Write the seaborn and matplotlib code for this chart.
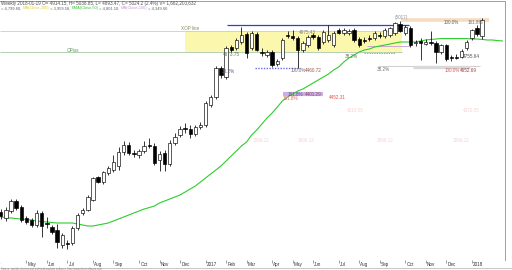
import numpy as np
import pandas as pd
import matplotlib
matplotlib.use("Agg")
import matplotlib.pyplot as plt
import seaborn as sns
from matplotlib.lines import Line2D
from matplotlib.transforms import blended_transform_factory

# ---------------- data (weekly candles) ----------------
weeks = pd.date_range("2016-04-01", periods=95, freq="W-FRI")

opens = [3680, 3638, 3687, 3757, 3715, 3638, 3624, 3589, 3673, 3603,
         3575, 3554, 3449, 3463, 3463, 3568, 3673, 3694, 3764, 3925,
         3890, 3953, 3974, 4002, 4100, 4149, 4093, 4079, 4107, 4149,
         4142, 4044, 4093, 4016, 4163, 4219, 4268, 4261, 4226, 4275,
         4289, 4429, 4485, 4688, 4625, 4835, 4828, 4870, 4926, 4828,
         4926, 4800, 4779, 4800, 4716, 4758, 4919, 4912, 4898, 4814,
         4849, 4919, 4905, 4870, 4884, 4849, 4954, 4933, 4933, 4954,
         4891, 4884, 4898, 4898, 4919, 4912, 4919, 4933, 4996, 4933,
         4968, 4863, 4877, 4856, 4870, 4863, 4800, 4849, 4762, 4765,
         4765, 4828, 4898, 4968, 4914.15]
highs = [3701, 3715, 3771, 3771, 3729, 3652, 3638, 3694, 3687, 3645,
         3589, 3596, 3533, 3484, 3582, 3673, 3708, 3799, 3925, 3932,
         3967, 4002, 4079, 4135, 4177, 4170, 4114, 4121, 4177, 4198,
         4163, 4107, 4114, 4184, 4233, 4282, 4303, 4289, 4289, 4310,
         4457, 4499, 4702, 4702, 4842, 4849, 4898, 4975, 4940, 4947,
         4940, 4828, 4814, 4814, 4751, 4898, 4947, 4954, 4912, 4877,
         4919, 4933, 4919, 4954, 4989, 4947, 4968, 4968, 4961, 4968,
         4905, 4905, 4919, 4947, 4940, 4968, 4975, 5010, 5017, 4989,
         4982, 4884, 4898, 4891, 4947, 4877, 4856, 4856, 4779, 4786,
         4821, 4884, 4961, 4989, 5038.85]
lows = [3631, 3617, 3673, 3694, 3610, 3596, 3575, 3575, 3505, 3568,
        3526, 3428, 3428, 3421, 3449, 3554, 3659, 3687, 3757, 3883,
        3876, 3939, 3960, 3974, 4079, 4079, 4065, 4058, 4093, 4128,
        4009, 3967, 3967, 4002, 4149, 4205, 4233, 4198, 4212, 4261,
        4275, 4415, 4471, 4618, 4611, 4800, 4814, 4856, 4758, 4814,
        4807, 4772, 4765, 4695, 4702, 4744, 4898, 4884, 4688, 4800,
        4835, 4891, 4814, 4856, 4870, 4835, 4926, 4919, 4919, 4870,
        4835, 4863, 4877, 4884, 4898, 4898, 4905, 4919, 4940, 4919,
        4835, 4842, 4744, 4849, 4849, 4723, 4786, 4737, 4740, 4751,
        4758, 4814, 4884, 4912, 4893.47]
closes = [3652, 3694, 3757, 3708, 3624, 3610, 3589, 3673, 3582, 3596,
          3540, 3470, 3519, 3456, 3568, 3659, 3694, 3785, 3918, 3890,
          3960, 3988, 4030, 4100, 4149, 4093, 4086, 4107, 4142, 4142,
          4023, 4086, 4016, 4163, 4205, 4261, 4261, 4226, 4275, 4289,
          4443, 4485, 4688, 4639, 4828, 4814, 4884, 4919, 4793, 4933,
          4814, 4793, 4800, 4709, 4737, 4884, 4912, 4898, 4814, 4863,
          4905, 4905, 4828, 4940, 4919, 4933, 4933, 4954, 4947, 4884,
          4849, 4877, 4891, 4933, 4912, 4954, 4968, 5003, 4947, 4975,
          4849, 4870, 4863, 4870, 4863, 4800, 4849, 4751, 4757, 4758,
          4807, 4870, 4954, 4926, 5024.2]

# green moving-average line (extends 4 weeks past the last candle)
ema_line = [3645, 3641, 3638, 3634, 3631, 3627, 3624, 3617, 3613, 3610,
            3606, 3603, 3603, 3603, 3603, 3596, 3589, 3582, 3582, 3589,
            3596, 3603, 3617, 3631, 3645, 3659, 3673, 3687, 3701, 3711,
            3722, 3743, 3757, 3771, 3785, 3799, 3820, 3841, 3862, 3890,
            3918, 3946, 3974, 4002, 4037, 4072, 4107, 4142, 4170, 4219,
            4254, 4296, 4338, 4373, 4415, 4457, 4485, 4506, 4527, 4541,
            4562, 4583, 4604, 4625, 4646, 4674, 4695, 4730, 4758, 4779,
            4800, 4814, 4821, 4835, 4842, 4849, 4856, 4863, 4870, 4870,
            4870, 4870, 4877, 4884, 4888, 4891, 4894, 4894, 4894, 4894,
            4894, 4894, 4891, 4891, 4888, 4884, 4884, 4880, 4877]

month_tick_weeks = [-1.6, 5, 9, 13, 18, 22, 27, 31, 35, 40, 44, 48, 53, 57,
                    61, 66, 70, 74, 79, 83, 87, 92]
month_labels = ["Apr", "May", "Jun", "Jul", "Aug", "Sep", "Oct", "Nov", "Dec",
                "2017", "Feb", "Mar", "Apr", "May", "Jun", "Jul", "Aug", "Sep",
                "Oct", "Nov", "Dec", "2018"]

# drawn levels: (price, start week, end week)
box_span = (36.0, 78.4)
box_levels = (4800, 4947)
blue_line = (4989, 44.2, 79.7)
peach_band = (5024, 78.2, 95.4)
gray_band = (4695, 80.5, 91.6)
gray_thin = (4702, 73.7, 93.6)
purple_dotted = (4688, 49.7, 58.4)
lavender_band = (4506, 55.1, 62.9)
plum_line = (4842, 71.5, 80.0)
red_dash = (4793, 71.0, 77.0)

# ---------------- figure ----------------
W, H = 512, 270
sns.set_theme(style="white")
plt.rcParams["font.family"] = ["Liberation Sans", "DejaVu Sans"]

fig = plt.figure(figsize=(W / 100, H / 100), dpi=100)
AX_L, AX_R, AX_T, AX_B = 0, 505, 1, 260
ax = fig.add_axes([AX_L / W, 1 - AX_B / H, (AX_R - AX_L) / W, (AX_B - AX_T) / H])


def wx(px):
    return (px - 0.8) / 5.12


def py(px):
    return 5164 - 7 * px


ax.set_xlim(wx(AX_L), wx(AX_R))
ax.set_ylim(py(AX_B), py(AX_T))

df = pd.DataFrame({"week": np.arange(len(weeks)), "open": opens, "high": highs,
                   "low": lows, "close": closes})
df["up"] = df["close"] >= df["open"]
mid = (df["open"] + df["close"]) / 2
height = np.maximum((df["close"] - df["open"]).abs(), 7)
bottom = mid - height / 2

# yellow box and its extended edges
ax.fill_between(box_span, box_levels[0], box_levels[1], color="#fbf7ad", lw=0, zorder=0.5)
ax.hlines(box_levels[1], wx(AX_L), box_span[1], color="#d6cfa4", lw=0.6, zorder=0.8)
ax.hlines(box_levels[0], wx(AX_L), box_span[1], color="#a9c9a9", lw=0.6, zorder=0.8)

ax.hlines(blue_line[0], blue_line[1], blue_line[2], color="#2f3fd6", lw=0.9, zorder=1)
ax.hlines(peach_band[0], peach_band[1], peach_band[2], color="#f7dcc0", lw=2.6, zorder=1)
ax.hlines(gray_thin[0], gray_thin[1], gray_thin[2], color="#bbbbbb", lw=0.5, zorder=1)
ax.hlines(gray_band[0], gray_band[1], gray_band[2], color="#d9d9d9", lw=2.4, zorder=1)
ax.hlines(purple_dotted[0], purple_dotted[1], purple_dotted[2], color="#6a6ae0",
          lw=1.0, linestyles=(0, (1, 1)), zorder=1)
ax.hlines(lavender_band[0], lavender_band[1], lavender_band[2], color="#c9aee9", lw=3.0, zorder=1)
ax.hlines(plum_line[0], plum_line[1], plum_line[2], color="#c89ad8", lw=0.6, zorder=1)
ax.hlines(red_dash[0], red_dash[1], red_dash[2], color="#e05050", lw=0.5,
          linestyles=(0, (2, 1.5)), zorder=1)

# green MA line
sns.lineplot(x=np.arange(len(ema_line)), y=ema_line, ax=ax, color="#2ecc2e",
             lw=0.8, legend=False, zorder=2)

# candles
ax.vlines(df["week"], df["low"], df["high"], color="black", lw=0.55, zorder=3)
ax.bar(df["week"], height, bottom=bottom, width=0.66,
       color=np.where(df["up"], "white", "black"), edgecolor="black",
       linewidth=0.45, zorder=4)

# ---------------- annotations ----------------
fs = 3.3


def note(xpx, ypx, s, color, size=fs, ha="left"):
    ax.text(wx(xpx), py(ypx), s, color=color, fontsize=size, ha=ha, va="center", zorder=6)


note(181, 28.5, "XOP line", "#8a8a5a")
note(67, 50, "OPlus", "#5a9a5a")
note(223, 54, "4873.75", "#5a705a")
note(222, 71.5, "38.2%", "#606078")
note(291, 70.5, "100.0%", "#707070")
note(305, 70.5, "4460.72", "#a05050")
note(288, 94, "161.8%", "#6a4a8a")
note(305, 94, "4401.29", "#9a4a6a")
note(283, 98, "161.8%", "#e06060")
note(329, 97.5, "4452.31", "#e05050")
note(345, 57, "38.2%", "#707070")
note(377, 69.5, "38.2%", "#707070")
note(445, 70, "100.0%", "#d06060")
note(460, 70, "4652.69", "#a04040")
note(463, 56, "4755.64", "#505050")
note(444, 22.5, "100.0%", "#606060")
note(468, 22, "161.8%", "#707070")
note(395, 17, "(5017)", "#909090")
note(299, 33, "4975.43", "#808080")
for xp, yp, s in [(347, 110, "4210.55"), (463, 110, "4210.55"), (253, 140, "3996.12"),
                  (298, 140, "3996.12"), (377, 140, "3996.12"), (453, 140, "3996.12")]:
    note(xp, yp, s, "#f6d2d2")

# x axis: month ticks and labels
ax.set_xticks([w for w in month_tick_weeks if w >= wx(AX_L)])
ax.set_xticklabels([])
ax.tick_params(axis="x", bottom=True, direction="out", length=2.2, width=0.5,
               color="#777777", pad=0)
ax.tick_params(axis="y", left=False, right=False, labelleft=False)
trans = blended_transform_factory(ax.transData, ax.transAxes)
for w, lab in zip(month_tick_weeks, month_labels):
    ax.text(w + 0.25, -4.3 / (AX_B - AX_T), lab, transform=trans, fontsize=3.3,
            color="#333333", ha="left", va="center", clip_on=False)

for side in ["left", "bottom"]:
    ax.spines[side].set_visible(False)
for side in ["top", "right"]:
    ax.spines[side].set_color("#a0a0a0")
    ax.spines[side].set_linewidth(0.7)
ax.grid(False)

# bottom border and footnote
fig.add_artist(Line2D([0, 1], [1 - 267.5 / H, 1 - 267.5 / H], color="#b0b0b0", lw=0.5))
fig.text(1 / W, 1 - 269 / H, "Source: weekly charting and technical analysis software, http://www.chartsoftware.com",
         fontsize=1.9, color="#888888", ha="left", va="center")

# title (two lines, multicoloured second line)
fig.text(1 / W, 1 - 3.2 / H,
         "Weekly 2018-01-19 O= 4914.15, H= 5038.85, L= 4893.47, C= 5024.2 (2.4%) V= 1,662,200,632",
         fontsize=3.35, color="#505050", ha="left", va="center")
pieces = [("= 4,799.60, ", "#606060"), ("MA(Close,200)", "#e6cf3a"),
          (" = 3,959.58, ", "#606060"), ("EMA(Close,50)", "#3cc43c"),
          (" = 4,801.10, ", "#606060"), ("MA(Close,100)", "#c79ad6"),
          (" = 4,349.60", "#606060")]
fig.canvas.draw()
renderer = fig.canvas.get_renderer()
xpos = 1.0
for s, c in pieces:
    t = fig.text(xpos / W, 1 - 8.4 / H, s, fontsize=2.9, color=c, ha="left", va="center")
    xpos += t.get_window_extent(renderer).width

fig.savefig("out.png", dpi=100)
